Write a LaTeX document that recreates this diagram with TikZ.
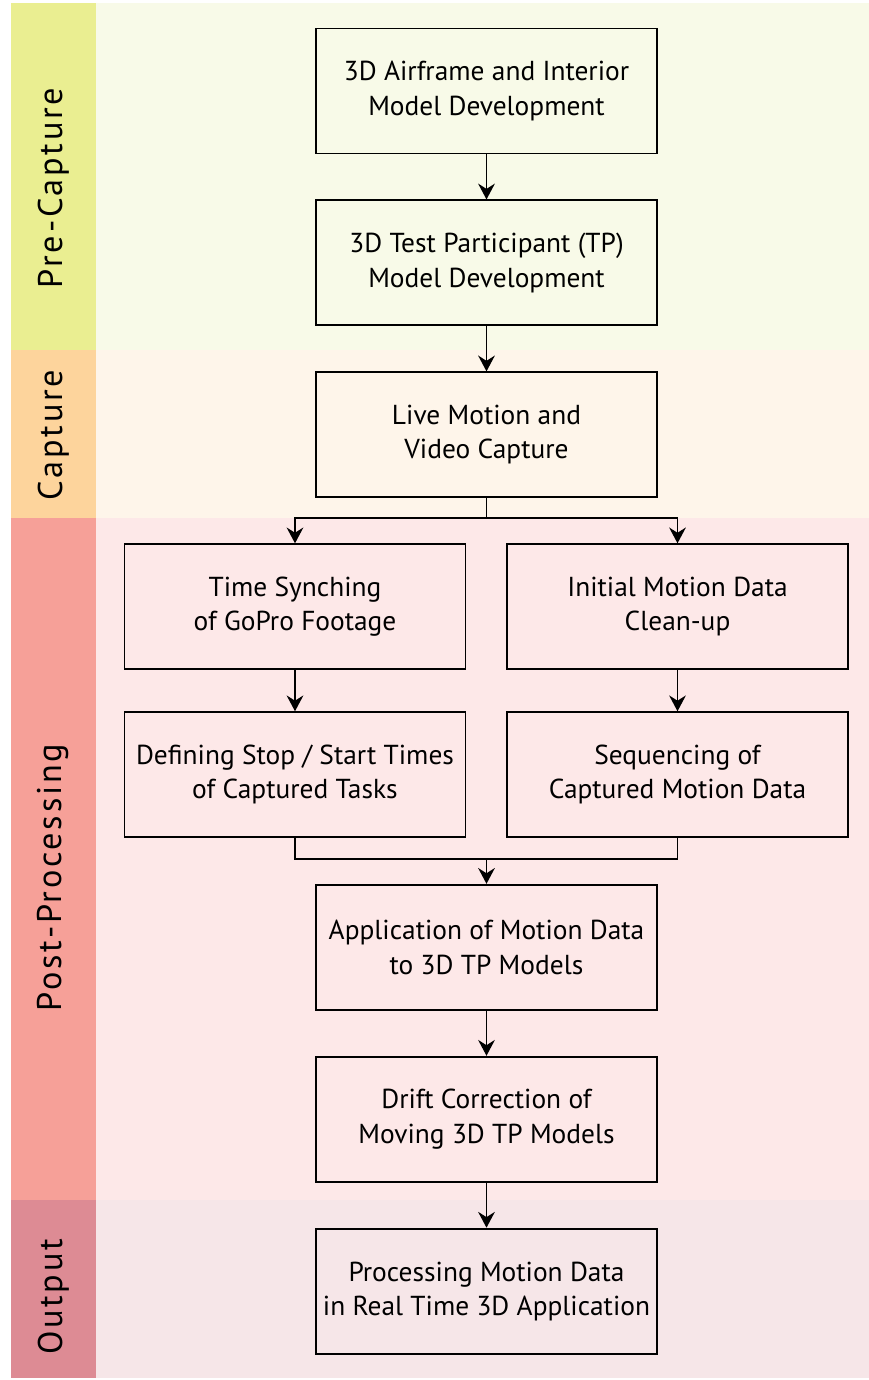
\documentclass[tikz,border=0pt]{standalone}
\usepackage{fontspec}
\setmainfont{PT Sans}
\newfontfamily\phasefont[LetterSpace=8]{PT Sans}
\definecolor{preband}{RGB}{234,238,145}
\definecolor{prebg}{RGB}{248,250,232}
\definecolor{capband}{RGB}{253,212,156}
\definecolor{capbg}{RGB}{254,245,234}
\definecolor{postband}{RGB}{246,160,152}
\definecolor{postbg}{RGB}{253,232,232}
\definecolor{outband}{RGB}{221,139,148}
\definecolor{outbg}{RGB}{246,230,232}
\usetikzlibrary{calc}
\usetikzlibrary{positioning,arrows.meta}

\begin{document}
\begin{tikzpicture}[
    stage/.style={draw, line width=1.1pt, minimum width=6.82cm, minimum height=2.5cm,
      align=center, font=\fontsize{15.6}{19.5}\selectfont},
    phase/.style={rotate=90, font=\phasefont\fontsize{19.5}{21}\selectfont},
    flow/.style={line width=1.1pt, -{Stealth[length=9pt,width=9.5pt,inset=3pt]}}]
  \useasboundingbox (0,0) rectangle (17.38,-27.6);

  % phase bands
  \fill [prebg] (1.92,-0.06) rectangle (17.38,-7.0);
  \fill [preband] (0.22,-0.06) rectangle (1.92,-7.0);
  \fill [capbg] (1.92,-7.0) rectangle (17.38,-10.36);
  \fill [capband] (0.22,-7.0) rectangle (1.92,-10.36);
  \fill [postbg] (1.92,-10.36) rectangle (17.38,-24.0);
  \fill [postband] (0.22,-10.36) rectangle (1.92,-24.0);
  \fill [outbg] (1.92,-24.0) rectangle (17.38,-27.56);
  \fill [outband] (0.22,-24.0) rectangle (1.92,-27.56);

  \node [phase] (pre) at (1.07,-3.76) {Pre-Capture};
  \node [phase] (cap) at (1.07,-8.7) {Capture};
  \node [phase] (post) at (1.07,-17.55) {Post-Processing};
  \node [phase] (out) at (1.07,-25.94) {Output};

  \node [stage] (airframe) at (9.73,-1.82) {3D Airframe and Interior\\Model Development};
  \node [stage, below=0.9cm of airframe] (tpmodel) {3D Test Participant (TP)\\Model Development};
  \node [stage, below=0.9cm of tpmodel] (capture) {Live Motion and\\Video Capture};
  \node [stage, below=0.9cm of capture, xshift=-3.83cm] (timesync) {Time Synching\\of GoPro Footage};
  \node [stage, below=0.9cm of capture, xshift=3.82cm] (cleanup) {Initial Motion Data\\Clean-up};
  \node [stage, below=0.82cm of timesync] (stoptimes) {Defining Stop / Start Times\\of Captured Tasks};
  \node [stage, below=0.82cm of cleanup] (sequencing) {Sequencing of\\Captured Motion Data};
  \node [stage, below=0.9cm of capture, yshift=-6.81cm] (application) {Application of Motion Data\\to 3D TP Models};
  \node [stage, below=0.9cm of application] (drift) {Drift Correction of\\Moving 3D TP Models};
  \node [stage, below=0.9cm of drift] (realtime) {Processing Motion Data\\in Real Time 3D Application};

  \draw [flow] (airframe) -- (tpmodel);
  \draw [flow] (tpmodel) -- (capture);

  % split into the two tracks
  \coordinate (split) at ($(capture.south)+(0,-0.4)$);
  \draw [line width=1.1pt] (capture.south) -- (split);
  \draw [flow] (split) -| (timesync.north);
  \draw [flow] (split) -| (cleanup.north);
  \draw [flow] (timesync) -- (stoptimes);
  \draw [flow] (cleanup) -- (sequencing);

  % merge the tracks
  \coordinate (merge) at ($(application.north)+(0,0.5)$);
  \draw [line width=1.1pt] (stoptimes.south) |- (merge) -| (sequencing.south);
  \draw [flow] (merge) -- (application);
  \draw [flow] (application) -- (drift);
  \draw [flow] (drift) -- (realtime);

\end{tikzpicture}
\end{document}
